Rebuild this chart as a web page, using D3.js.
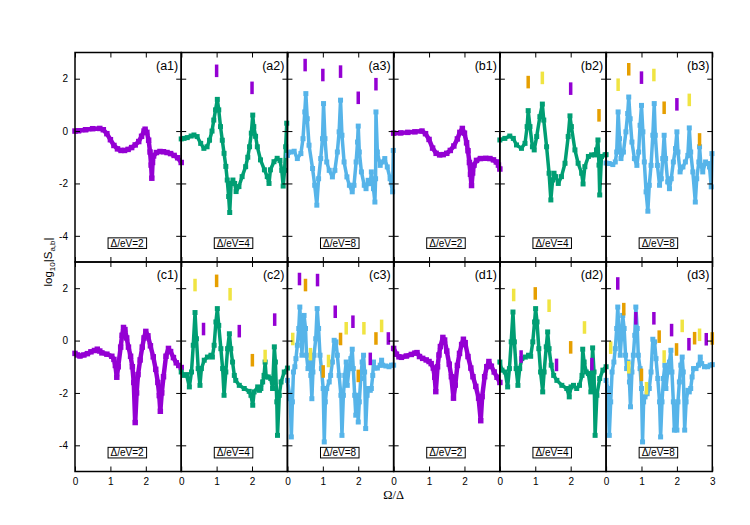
<!DOCTYPE html>
<html>
<head>
<meta charset="utf-8">
<script src="https://d3js.org/d3.v7.min.js"></script>
<style>
  body { margin: 0; background: #fff; }
  svg { display: block; font-family: "Liberation Sans", Arial, sans-serif; }
</style>
</head>
<body>
<svg id="chart" width="750" height="525"></svg>
<script>
// panel ids and the Delta of each panel
const panelIds = ["a1", "a2", "a3", "b1", "b2", "b3", "c1", "c2", "c3", "d1", "d2", "d3"];
const deltas = [2, 4, 8, 2, 4, 8, 2, 4, 8, 2, 4, 8];
const xTicks = [0, 1, 2, 3];
const yTicks = [-4, -2, 0, 2];

// log10|S| curves, [Omega/Delta, value]
const sA1 = [[0,0],[0.1,0.01],[0.3,0.05],[0.5,0.09],[0.7,0.1],[0.8,0.05],[0.9,-0.1],[1.0,-0.33],[1.1,-0.55],[1.2,-0.68],[1.3,-0.74],[1.4,-0.74],[1.5,-0.7],[1.6,-0.63],[1.7,-0.53],[1.8,-0.4],[1.88,-0.2],[1.95,0.0],[1.98,0.07],[2.03,-0.05],[2.08,-0.35],[2.12,-0.8],[2.15,-1.3],[2.17,-1.8],[2.19,-1.2],[2.22,-0.95],[2.3,-0.82],[2.4,-0.78],[2.5,-0.79],[2.6,-0.82],[2.7,-0.86],[2.8,-0.93],[2.9,-1.02],[3.0,-1.2]];
const sA2 = [[0,-0.3],[0.08,-0.28],[0.17,-0.25],[0.28,-0.19],[0.36,-0.15],[0.45,-0.21],[0.55,-0.47],[0.64,-0.66],[0.73,-0.6],[0.8,-0.35],[0.87,0.0],[0.92,0.42],[0.97,0.81],[1.02,1.21],[1.06,0.81],[1.11,0.17],[1.16,-0.35],[1.21,-0.85],[1.26,-1.35],[1.3,-1.87],[1.34,-2.5],[1.37,-3.11],[1.41,-2.0],[1.46,-1.87],[1.51,-2.0],[1.55,-2.31],[1.63,-2.12],[1.72,-1.74],[1.82,-1.36],[1.88,-1.0],[1.93,-0.6],[1.98,-0.08],[2.02,0.61],[2.05,0.17],[2.1,-0.2],[2.15,-0.6],[2.24,-1.1],[2.35,-1.48],[2.43,-1.74],[2.48,-2.0],[2.52,-1.48],[2.62,-1.17],[2.71,-1.04],[2.79,-1.12],[2.84,-1.5],[2.88,-2.1],[2.92,-1.5],[2.95,-0.6],[2.98,0.3]];
const sA3 = [[0,-0.93],[0.09,-0.8],[0.19,-0.77],[0.28,-1.05],[0.38,-0.86],[0.44,-0.29],[0.49,0.73],[0.52,1.43],[0.56,0.47],[0.61,-0.54],[0.71,-1.43],[0.77,-2.07],[0.83,-2.83],[0.88,-1.82],[0.94,-1.05],[0.99,-0.29],[1.02,1.05],[1.06,-0.29],[1.11,-1.18],[1.18,-1.5],[1.27,-1.75],[1.34,-1.5],[1.41,-0.8],[1.46,-0.03],[1.5,1.18],[1.54,-0.16],[1.6,-1.18],[1.68,-1.75],[1.75,-2.07],[1.83,-2.32],[1.88,-2.07],[1.94,-1.18],[1.98,-0.42],[2.0,0.19],[2.03,-0.8],[2.09,-1.56],[2.17,-2.07],[2.22,-2.2],[2.28,-1.88],[2.34,-2.01],[2.37,-1.56],[2.43,-2.2],[2.47,-2.71],[2.49,-1.82],[2.5,0.73],[2.54,-0.8],[2.62,-1.31],[2.68,-1.18],[2.75,-1.05],[2.82,-1.37],[2.9,-1.82],[2.97,-2.32],[2.99,-0.74]];
const sB1 = [[0,-0.08],[0.2,-0.07],[0.4,-0.05],[0.6,-0.03],[0.8,0.0],[0.9,-0.1],[1.0,-0.32],[1.1,-0.65],[1.2,-0.85],[1.3,-0.91],[1.4,-0.9],[1.5,-0.85],[1.6,-0.74],[1.7,-0.57],[1.8,-0.3],[1.87,-0.05],[1.94,0.1],[2.0,-0.08],[2.06,-0.45],[2.1,-0.75],[2.14,-1.2],[2.17,-1.65],[2.2,-2.08],[2.23,-1.6],[2.27,-1.3],[2.34,-1.12],[2.45,-1.05],[2.6,-1.04],[2.72,-1.05],[2.82,-1.1],[2.9,-1.18],[2.96,-1.3],[3.0,-1.45]];
const sB2 = [[0,-0.34],[0.14,-0.28],[0.28,-0.19],[0.38,-0.28],[0.47,-0.53],[0.61,-0.66],[0.71,-0.47],[0.77,0.17],[0.8,0.78],[0.85,0.17],[0.92,-0.6],[0.97,-0.72],[1.04,-0.21],[1.13,0.55],[1.2,1.03],[1.24,0.42],[1.32,-0.6],[1.39,-1.61],[1.44,-2.63],[1.49,-1.87],[1.53,-1.61],[1.58,-1.74],[1.65,-2.0],[1.74,-1.74],[1.84,-1.23],[1.93,-0.21],[1.98,0.58],[2.02,0.17],[2.12,-0.72],[2.21,-1.23],[2.31,-1.61],[2.35,-2.02],[2.4,-1.36],[2.5,-0.97],[2.59,-0.91],[2.68,-0.91],[2.73,-0.72],[2.77,-0.34],[2.8,-1.3],[2.82,-2.44],[2.87,-0.97],[2.97,-0.91],[3.0,-0.9]];
const sB3 = [[0,-1.22],[0.09,-1.24],[0.19,-1.28],[0.26,-1.18],[0.3,-0.8],[0.34,0.73],[0.38,-0.29],[0.42,-1.05],[0.49,-0.8],[0.56,-0.03],[0.61,0.67],[0.64,1.3],[0.68,0.47],[0.73,-0.42],[0.8,-1.05],[0.87,-1.31],[0.92,-0.8],[0.96,0.22],[1.0,0.98],[1.04,-0.03],[1.08,-1.18],[1.13,-2.32],[1.18,-3.06],[1.22,-2.07],[1.27,-1.31],[1.32,-0.16],[1.36,1.05],[1.39,-0.16],[1.45,-1.31],[1.51,-2.07],[1.56,-1.82],[1.6,-1.05],[1.64,-0.16],[1.68,-1.05],[1.74,-1.94],[1.79,-2.2],[1.84,-1.82],[1.9,-1.18],[1.96,-0.67],[2.0,-0.03],[2.03,-0.8],[2.09,-1.56],[2.17,-1.37],[2.24,-1.18],[2.31,-0.93],[2.35,0.12],[2.39,-0.8],[2.45,-1.56],[2.52,-2.71],[2.56,-1.82],[2.62,-1.18],[2.64,-0.6],[2.68,-1.31],[2.73,-1.56],[2.81,-1.18],[2.87,-1.24],[2.92,-1.37],[2.97,-2.13],[2.99,-0.86]];
const sC1 = [[0,-0.49],[0.07,-0.55],[0.14,-0.59],[0.25,-0.55],[0.35,-0.5],[0.45,-0.43],[0.55,-0.38],[0.63,-0.33],[0.7,-0.4],[0.76,-0.47],[0.9,-0.52],[1.04,-0.6],[1.1,-0.72],[1.14,-0.95],[1.18,-1.4],[1.22,-1.0],[1.29,-0.25],[1.33,0.2],[1.37,0.5],[1.41,0.42],[1.46,0.1],[1.51,-0.25],[1.57,-0.6],[1.62,-1.0],[1.66,-1.6],[1.7,-3.13],[1.74,-2.0],[1.78,-1.3],[1.84,-0.74],[1.9,-0.25],[1.95,0.1],[2.0,0.35],[2.06,0.18],[2.13,-0.2],[2.21,-0.62],[2.28,-1.1],[2.34,-1.6],[2.38,-2.1],[2.41,-2.7],[2.45,-2.0],[2.5,-1.38],[2.57,-0.6],[2.64,-0.3],[2.7,-0.42],[2.78,-0.65],[2.86,-0.85],[2.93,-0.95],[3.0,-1.03]];
const sC2 = [[0,-1.2],[0.08,-1.33],[0.15,-1.3],[0.23,-1.77],[0.29,-1.2],[0.34,-0.18],[0.39,1.07],[0.43,0.07],[0.48,-1.07],[0.53,-1.71],[0.57,-1.07],[0.65,-0.75],[0.74,-0.63],[0.84,-0.56],[0.88,-0.63],[0.93,-0.18],[0.98,0.71],[1.02,1.22],[1.06,0.58],[1.12,-0.31],[1.17,-1.07],[1.21,-2.09],[1.26,-1.2],[1.31,-0.31],[1.36,0.26],[1.4,-0.31],[1.45,-0.82],[1.5,-1.33],[1.54,-1.52],[1.64,-1.71],[1.78,-1.83],[1.92,-1.94],[1.97,-2.09],[2.02,-2.47],[2.06,-1.96],[2.16,-1.77],[2.21,-1.9],[2.25,-1.83],[2.3,-1.58],[2.34,-1.33],[2.37,-0.82],[2.4,-1.39],[2.46,-1.39],[2.53,-1.45],[2.58,-1.83],[2.63,-0.24],[2.66,-0.82],[2.7,-2.34],[2.72,-3.62],[2.77,-2.09],[2.82,-1.58],[2.91,-1.2],[3.0,-1.05]];
const sC3 = [[0,-1.52],[0.08,-2.22],[0.11,-3.68],[0.14,-2.34],[0.17,-1.2],[0.21,-1.0],[0.24,-0.69],[0.28,-0.18],[0.32,0.46],[0.35,1.28],[0.38,0.46],[0.41,-0.56],[0.43,0.07],[0.47,0.96],[0.51,0.46],[0.54,-0.56],[0.58,-1.07],[0.63,-0.82],[0.66,-1.33],[0.69,-2.22],[0.72,-1.2],[0.75,-0.56],[0.8,0.07],[0.84,1.22],[0.88,0.46],[0.92,-0.56],[0.96,-1.07],[1.01,-1.83],[1.04,-3.87],[1.07,-2.34],[1.11,-1.83],[1.18,-1.58],[1.22,-1.33],[1.27,-0.82],[1.32,0.01],[1.37,-0.05],[1.41,-0.56],[1.46,-1.33],[1.51,-2.09],[1.54,-3.62],[1.58,-2.09],[1.62,-1.33],[1.66,-0.82],[1.69,-1.71],[1.74,-1.07],[1.79,-0.69],[1.83,-0.33],[1.86,-1.07],[1.9,-2.09],[1.93,-2.85],[1.96,-2.09],[2.0,-3.11],[2.03,-2.34],[2.07,-1.45],[2.11,-0.82],[2.15,-0.56],[2.18,-1.2],[2.21,-3.36],[2.25,-2.09],[2.29,-1.83],[2.34,-1.9],[2.37,-1.83],[2.41,-1.33],[2.43,-0.82],[2.47,-1.05],[2.54,-1.05],[2.62,-0.94],[2.66,-0.75],[2.69,-0.94],[2.78,-0.97],[2.87,-1.0],[2.94,-0.94],[3.0,-0.94]];
const sD1 = [[0,-0.3],[0.08,-0.52],[0.15,-0.62],[0.22,-0.64],[0.36,-0.59],[0.5,-0.53],[0.6,-0.48],[0.66,-0.46],[0.73,-0.61],[0.82,-0.68],[0.92,-0.74],[1.0,-0.8],[1.06,-0.88],[1.12,-1.05],[1.16,-1.4],[1.19,-1.95],[1.24,-1.0],[1.28,-0.55],[1.32,-0.23],[1.39,0.12],[1.44,0.02],[1.5,-0.4],[1.57,-0.9],[1.63,-1.38],[1.69,-2.2],[1.74,-1.7],[1.8,-0.95],[1.86,-0.49],[1.92,-0.15],[1.97,0.05],[2.02,-0.08],[2.1,-0.61],[2.18,-1.05],[2.24,-1.38],[2.32,-1.75],[2.4,-2.2],[2.46,-3.06],[2.5,-2.14],[2.57,-1.38],[2.63,-1.0],[2.69,-0.8],[2.76,-0.98],[2.84,-1.2],[2.92,-1.4],[3.0,-1.6]];
const sD2 = [[0,-0.82],[0.06,-1.13],[0.15,-1.2],[0.22,-1.77],[0.27,-1.07],[0.32,-0.05],[0.37,1.09],[0.41,-0.05],[0.46,-1.07],[0.51,-1.71],[0.56,-1.07],[0.62,-0.69],[0.72,-0.63],[0.81,-0.56],[0.87,-0.6],[0.93,-0.05],[0.98,0.71],[1.01,1.22],[1.05,0.71],[1.1,-0.31],[1.15,-1.2],[1.21,-1.96],[1.25,-1.2],[1.31,-0.24],[1.35,0.33],[1.39,-0.31],[1.45,-0.94],[1.52,-1.33],[1.61,-1.52],[1.75,-1.71],[1.89,-1.83],[1.96,-2.15],[2.01,-1.77],[2.08,-1.71],[2.17,-1.83],[2.25,-1.71],[2.32,-1.33],[2.34,-0.33],[2.38,-0.82],[2.44,-1.2],[2.5,-1.26],[2.57,-1.96],[2.62,-0.28],[2.66,-1.2],[2.69,-3.62],[2.74,-2.09],[2.82,-1.45],[2.91,-1.13],[3.0,-1.0]];
const sD3 = [[0,-1.52],[0.05,-1.83],[0.09,-3.62],[0.13,-2.34],[0.17,-1.2],[0.22,-0.82],[0.26,-0.31],[0.3,0.46],[0.33,1.28],[0.36,0.46],[0.4,-0.56],[0.43,0.07],[0.47,0.96],[0.51,0.46],[0.55,-0.56],[0.58,-1.07],[0.62,-0.82],[0.66,-1.58],[0.69,-2.53],[0.73,-1.2],[0.77,-0.56],[0.81,0.2],[0.84,1.28],[0.88,0.46],[0.91,-0.56],[0.96,-1.07],[1.0,-1.83],[1.03,-3.87],[1.06,-2.34],[1.1,-2.15],[1.16,-2.03],[1.22,-1.83],[1.27,-1.2],[1.32,0.05],[1.37,-0.05],[1.41,-0.69],[1.46,-1.45],[1.51,-2.34],[1.54,-3.68],[1.58,-2.34],[1.62,-1.45],[1.66,-0.94],[1.69,-1.83],[1.74,-1.2],[1.79,-0.82],[1.83,-0.37],[1.86,-1.2],[1.9,-2.34],[1.93,-3.42],[1.96,-2.47],[2.0,-3.42],[2.03,-2.34],[2.07,-1.58],[2.11,-0.94],[2.15,-0.63],[2.18,-1.2],[2.22,-3.42],[2.26,-2.34],[2.31,-1.9],[2.35,-1.96],[2.39,-1.83],[2.43,-1.39],[2.47,-1.07],[2.54,-1.07],[2.61,-0.94],[2.66,-0.63],[2.7,-0.88],[2.78,-1.0],[2.87,-1.0],[2.94,-0.94],[3.0,-0.92]];

// short vertical markers, [Omega/Delta, centre value, series]
const barsA2 = [[1.0,2.3,"p"],[2.0,1.65,"p"]];
const barsA3 = [[0.5,2.52,"p"],[1.0,2.14,"p"],[1.5,2.27,"p"],[2.0,1.27,"p"],[2.5,1.79,"p"]];
const barsB2 = [[0.8,1.87,"o"],[1.2,2.03,"y"],[2.0,1.62,"p"],[2.8,0.6,"o"]];
const barsB3 = [[0.34,1.77,"y"],[0.64,2.36,"o"],[1.0,2.04,"p"],[1.35,2.14,"y"],[1.64,0.89,"o"],[2.0,1.02,"p"],[2.35,1.19,"y"],[2.64,-0.32,"o"]];
const barsC2 = [[0.39,2.12,"y"],[1.0,2.28,"o"],[1.38,1.77,"y"],[0.63,0.44,"p"],[1.64,0.36,"p"],[2.01,-0.75,"o"],[2.37,-0.59,"y"],[2.64,0.8,"p"]];
const barsC3 = [[0.34,2.35,"p"],[0.51,2.12,"o"],[0.85,2.31,"p"],[0.15,0.06,"y"],[0.65,-0.52,"y"],[1.01,-1.18,"o"],[1.16,-0.78,"y"],[1.35,1.1,"p"],[1.5,0.06,"o"],[1.66,0.47,"y"],[1.85,0.72,"p"],[2.0,-1.35,"o"],[2.16,0.47,"y"],[2.34,-0.7,"p"],[2.5,0.08,"o"],[2.66,0.56,"y"],[2.85,0.08,"p"]];
const barsD2 = [[0.39,1.74,"y"],[1.0,1.8,"o"],[1.39,1.33,"y"],[0.6,-0.61,"p"],[1.6,-0.93,"p"],[2.0,-0.26,"o"],[2.39,0.5,"y"],[2.6,-0.9,"p"]];
const barsD3 = [[0.33,2.18,"p"],[0.5,1.2,"o"],[0.84,0.85,"p"],[0.13,-0.27,"y"],[0.64,-1.02,"y"],[1.0,-1.31,"o"],[1.14,-1.82,"y"],[1.35,0.85,"p"],[1.5,0.15,"o"],[1.64,-0.61,"y"],[1.85,0.4,"p"],[1.99,-0.34,"o"],[2.15,0.56,"y"],[2.34,-0.14,"p"],[2.5,0.09,"o"],[2.64,0.22,"y"],[2.83,0.05,"p"],[3.0,0.08,"o"]];

const curveList = [sA1, sA2, sA3, sB1, sB2, sB3, sC1, sC2, sC3, sD1, sD2, sD3];
const barList = [[], barsA2, barsA3, [], barsB2, barsB3, [], barsC2, barsC3, [], barsD2, barsD3];

// layout
const padL = 75, padR = 712.3, padT = 52.5, rowH = 209.5;
const colW = (padR - padL) / 6;

const curveColor = d3.scaleOrdinal().domain([2, 4, 8]).range(["#9400d3", "#009e73", "#56b4e9"]);
const barColor = d3.scaleOrdinal().domain(["p", "o", "y"]).range(["#9400d3", "#e69f00", "#f0e442"]);

const svg = d3.select("#chart");
const plots = svg.append("g");
const frames = svg.append("g");

panelIds.forEach((id, i) => {
    const row = Math.floor(i / 6), col = i % 6;
    const x0 = padL + col * colW, y0 = padT + row * rowH;
    const x = d3.scaleLinear().domain([0, 3]).range([x0, x0 + colW]);
    const y = d3.scaleLinear().domain([-5, 3]).range([y0 + rowH, y0]);
    const color = curveColor(deltas[i]);
    const g = plots.append("g");

    // curve with point markers (the Delta=2 ones are drawn denser in the original, so a bit heavier)
    const line = d3.line().x(d => x(d[0])).y(d => y(d[1]));
    g.append("path")
        .datum(curveList[i])
        .attr("d", line)
        .attr("fill", "none")
        .attr("stroke", color)
        .attr("stroke-width", deltas[i] === 2 ? 4.5 : 3.5)
        .attr("stroke-linejoin", "round");
    g.selectAll("path.pt")
        .data(curveList[i])
        .join("path")
        .attr("class", "pt")
        .attr("d", d3.symbol(d3.symbolSquare, deltas[i] === 2 ? 30 : 25)())
        .attr("transform", d => `translate(${x(d[0])},${y(d[1])})`)
        .attr("fill", color);

    // short vertical bars
    g.selectAll("line.bar")
        .data(barList[i])
        .join("line")
        .attr("class", "bar")
        .attr("x1", d => x(d[0])).attr("x2", d => x(d[0]))
        .attr("y1", d => y(d[1] + 0.24)).attr("y2", d => y(d[1] - 0.24))
        .attr("stroke", d => barColor(d[2]))
        .attr("stroke-width", 3.5);

    // ticks on all four sides, pointing inward
    const f = frames.append("g");
    const tickStyle = a => {
        a.select(".domain").remove();
        a.selectAll(".tick line").attr("stroke", "#000").attr("stroke-width", 1);
    };
    f.append("g").attr("transform", `translate(0,${y0})`)
        .call(d3.axisTop(x).tickValues(xTicks).tickSize(-5).tickFormat(""))
        .call(tickStyle);
    const bottomTicks = row === 1 ? (col === 5 ? xTicks : [0, 1, 2]) : xTicks;
    f.append("g").attr("transform", `translate(0,${y0 + rowH})`)
        .call(d3.axisBottom(x).tickValues(bottomTicks).tickSize(-5).tickPadding(6)
            .tickFormat(row === 1 ? d => String(d) : ""))
        .call(tickStyle)
        .selectAll("text").attr("font-size", 10).attr("font-family", "Liberation Sans, Arial, sans-serif");
    f.append("g").attr("transform", `translate(${x0},0)`)
        .call(d3.axisLeft(y).tickValues(yTicks).tickSize(-5).tickPadding(7)
            .tickFormat(col === 0 ? d => String(d) : ""))
        .call(tickStyle)
        .selectAll("text").attr("font-size", 10).attr("font-family", "Liberation Sans, Arial, sans-serif");
    f.append("g").attr("transform", `translate(${x0 + colW},0)`)
        .call(d3.axisRight(y).tickValues(yTicks).tickSize(-5).tickFormat(""))
        .call(tickStyle);

    // frame
    f.append("rect")
        .attr("x", x0).attr("y", y0)
        .attr("width", colW).attr("height", rowH)
        .attr("fill", "none").attr("stroke", "#000").attr("stroke-width", 1.5);

    // panel tag
    f.append("text")
        .attr("x", x0 + colW - 3).attr("y", y0 + 17)
        .attr("text-anchor", "end")
        .attr("font-size", 12.5)
        .text(`(${id})`);

    // boxed Delta label
    const box = f.append("rect")
        .attr("fill", "#fff").attr("stroke", "#000").attr("stroke-width", 1);
    const lab = f.append("text")
        .attr("x", x(1.5) - 1).attr("y", y(-4.28))
        .attr("dy", "0.35em")
        .attr("text-anchor", "middle")
        .attr("font-size", 10)
        .text(`Δ/eV=${deltas[i]}`);
    const bb = lab.node().getBBox();
    box.attr("x", bb.x - 2.5).attr("y", y(-4.28) - 5.3)
        .attr("width", bb.width + 5).attr("height", 10.6);
});

// axis titles
svg.append("text")
    .attr("x", (padL + padR) / 2).attr("y", 499)
    .attr("text-anchor", "middle")
    .attr("font-family", "Liberation Serif, Times New Roman, serif")
    .attr("font-size", 12.5)
    .text("Ω/Δ");

const yt = svg.append("text")
    .attr("transform", `translate(52,${padT + rowH}) rotate(-90)`)
    .attr("text-anchor", "middle")
    .attr("font-size", 11.5);
yt.append("tspan").text("log");
yt.append("tspan").attr("dy", 3).attr("font-size", 8).text("10");
yt.append("tspan").attr("dy", -3).text("|S");
yt.append("tspan").attr("dy", 3).attr("font-size", 8).text("a,b");
yt.append("tspan").attr("dy", -3).text("|");
</script>
</body>
</html>
